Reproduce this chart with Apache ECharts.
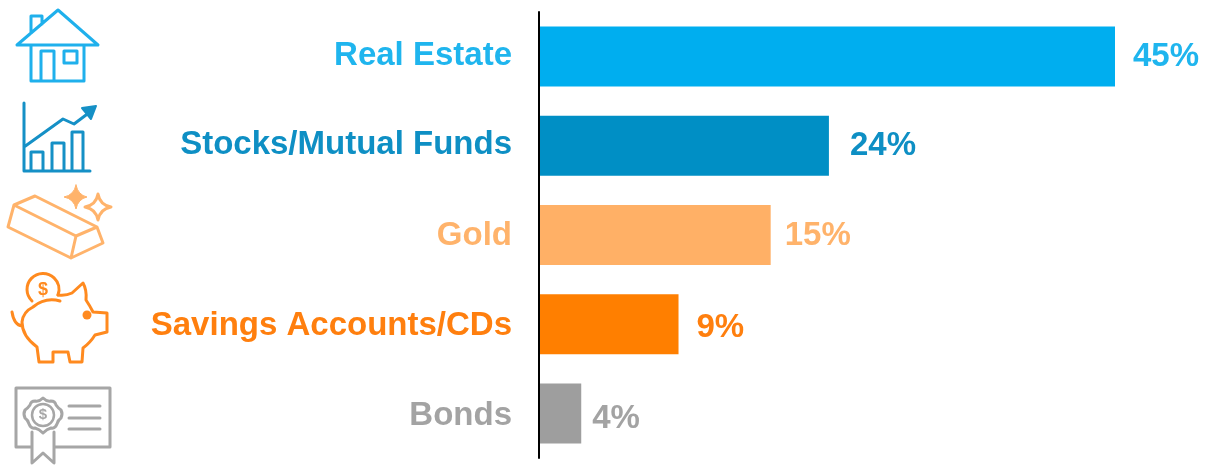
<!DOCTYPE html>
<html><head><meta charset="utf-8">
<style>html,body{margin:0;padding:0;background:#fff}#c{width:1205px;height:466px}</style>
<script src="https://cdn.jsdelivr.net/npm/echarts@6/dist/echarts.min.js"></script>
</head><body><div id="c"></div>
<script>
const categories = ['Real Estate','Stocks/Mutual Funds','Gold','Savings Accounts/CDs','Bonds'];
// Printed percentages, as labelled in the picture
const valueLabels = ['45%','24%','15%','9%','4%'];
// Bar lengths as drawn in the picture (on the same scale as the 45% bar)
const barLengths = [45,22.65,18.1,10.9,3.3];
const barColors = ['#00AEEF','#008FC5','#FFB066','#FF7F00','#9E9E9E'];
const textColors = ['#1FB5EE','#0E8FC4','#FFB36B','#FF7F0E','#A3A3A3'];

function abs(d,c,w,fill){return {type:'path',shape:{pathData:d},style:{fill:fill||'none',stroke:c,lineWidth:w||3,lineJoin:'round',lineCap:'round'}};}
const B='#1FB0EC',D='#1590C6',G='#FFB36B',O='#FF8A1F',S='#A6A6A6';
const icons=[
 abs('M17 45 L58 10 L98 45 Z M31 33 L31 16 L42 16 L42 24 M31 45 L31 81 L84 81 L84 45 M41 81 L41 51 L54 51 L54 81 M64 51 L77 51 L77 63 L64 63 Z',B,3),
 abs('M24 103 L24 171 L90 171 M31 171 L31 152 L43 152 L43 171 M52 171 L52 143 L64 143 L64 171 M72 171 L72 132 L83 132 L83 171 M24 147 L63 119 L74 124 L90 112',D,3),
 abs('M82 108 L96 106 L91 119 Z',D,2,D),
 abs('M14 205 L35 196 L97 227 L103 243 L71 258 L8 227 Z M14 205 L76 236 L97 227 M76 236 L71 258',G,3),
 abs('M76 185 Q78 195 87 197 Q78 199 76 209 Q74 199 64 197 Q74 195 76 185 Z',G,1,G),
 abs('M98 194 Q100 205 111 207 Q100 209 98 220 Q96 209 85 207 Q96 205 98 194 Z',G,3),
 abs('M32 301 A 16 16 0 1 1 58 295',O,3),
 abs('M33 307 Q45 297 60 301 M58 295 Q66 296 72 293 L83 283 Q87 290 86 300 Q90 306 93 312 L107 313 L107 332 L95 335 Q90 343 83 348 L82 362 L70 362 L68 352 L53 352 L53 362 L39 362 L37 347 Q22 336 22 322 Q23 312 33 307 M12 312 Q14 325 22 326',O,3),
 {type:'circle',shape:{cx:87,cy:315,r:4.5},style:{fill:O}},
 {type:'text',style:{x:43,y:290,text:'$',fill:O,font:'bold 18px "Liberation Sans"',align:'center',verticalAlign:'middle'}},
 abs('M32 447 L16 447 L16 388 L110 388 L110 447 L54 447 M69 406 L100 406 M69 418 L100 418 M69 429 L100 429 M32 432 L32 463 L43 453 L54 463 L54 432',S,3),
 abs('M43 398 Q47 402 51 401 Q55 401 56 405 Q58 408 61 410 Q63 414 61 418 Q58 420 57 424 Q55 429 51 428 Q47 429 43 433 Q39 429 35 428 Q31 429 29 424 Q28 420 25 418 Q23 414 25 410 Q28 408 30 405 Q31 401 35 401 Q39 402 43 398 Z',S,3),
 {type:'circle',shape:{cx:43,cy:415,r:11},style:{fill:'none',stroke:S,lineWidth:2.5}},
 {type:'text',style:{x:43,y:415,text:'$',fill:S,font:'bold 15px "Liberation Sans"',align:'center',verticalAlign:'middle'}}
];

// Rich styles only nudge each axis label up or down by a pixel or so
const labelPads=[[0,0,2,0],[0,0,2,0],[1,0,0,0],[4,0,0,0],[6,0,0,0]];
const richStyles={};
categories.forEach((c,i)=>{richStyles['c'+i]={color:textColors[i],padding:labelPads[i],fontFamily:'Liberation Sans',fontWeight:'bold',fontSize:33};});

const chart=echarts.init(document.getElementById('c'),null,{renderer:'canvas'});
chart.setOption({
 animation:false,
 backgroundColor:'#fff',
 grid:{left:539,top:12,width:576,height:446,containLabel:false},
 xAxis:{type:'value',min:0,max:45,show:false},
 yAxis:{type:'category',inverse:true,data:categories,z:5,
  axisLine:{show:true,lineStyle:{color:'#000',width:2}},
  axisTick:{show:false},
  axisLabel:{margin:27,formatter:(v)=>'{c'+categories.indexOf(v)+'|'+v+'}',rich:richStyles}},
 series:[{type:'bar',barWidth:60,
  data:barLengths.map((v,i)=>({value:v,itemStyle:{color:barColors[i]},
   label:{color:textColors[i],offset:[[0,0],[3,0],[-4,1],[0,4],[-7,6]][i]}})),
  label:{show:true,position:'right',distance:18,fontFamily:'Liberation Sans',fontWeight:'bold',fontSize:33,
   formatter:p=>valueLabels[p.dataIndex]}},
  {type:'custom',coordinateSystem:'none',silent:true,data:[[0]],clip:false,
   renderItem:()=>({type:'group',children:icons})}]
});
</script></body></html>
